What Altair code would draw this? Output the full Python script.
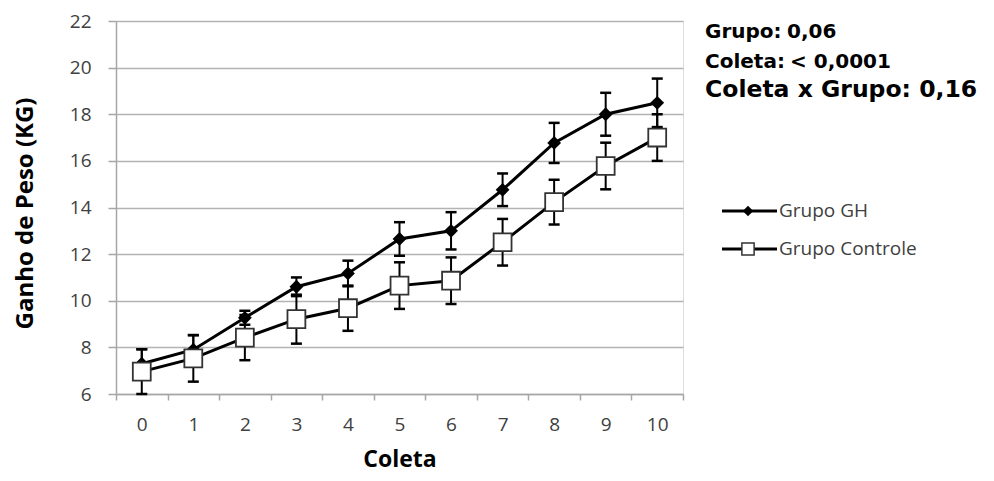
import altair as alt
import pandas as pd

# ---------------- data ----------------
coleta = list(range(11))
gh_mean = [7.3, 7.9, 9.27, 10.6, 11.17, 12.65, 13.0, 14.76, 16.77, 18.0, 18.49]
gh_se = [0.62, 0.62, 0.3, 0.4, 0.55, 0.72, 0.8, 0.7, 0.86, 0.92, 1.04]
ctrl_mean = [6.96, 7.53, 8.42, 9.21, 9.68, 10.65, 10.86, 12.51, 14.23, 15.78, 17.0]
ctrl_se = [0.96, 1.0, 0.97, 1.05, 0.97, 1.0, 1.0, 1.0, 0.96, 1.0, 1.0]
series_names = ["Grupo GH", "Grupo Controle"]
y_ticks = [6, 8, 10, 12, 14, 16, 18, 20, 22]
stat_labels = ["Grupo:", "0,06", "Coleta:", "< 0,0001", "Coleta x Grupo: 0,16"]

rows = []
for s, means, ses in [(series_names[0], gh_mean, gh_se), (series_names[1], ctrl_mean, ctrl_se)]:
    for c, m, e in zip(coleta, means, ses):
        rows.append({"serie": s, "coleta": c, "media": m, "lo": m - e, "hi": m + e})
df = pd.DataFrame(rows)

X = alt.X(
    "coleta:O",
    bandPosition=0.5,
    scale=alt.Scale(type="band", paddingInner=0, paddingOuter=0),
    axis=alt.Axis(
        title="Coleta", labelAngle=0, tickBand="extent", grid=False,
        labelFontSize=19, labelFont="Open Sans", labelColor="#404040",
        tickSize=6, labelPadding=15, tickColor="#a6a6a6", domainColor="#a6a6a6",
        tickWidth=1.5, domainWidth=1.5,
        titleFont="Open Sans", titleFontSize=23, titleFontWeight="bold",
        titleBaseline="alphabetic", titleY=72, titleColor="#000000",
    ),
)
Y = alt.Y(
    "media:Q",
    scale=alt.Scale(domain=[6, 22], nice=False, zero=False),
    axis=alt.Axis(
        title="Ganho de Peso (KG)", values=y_ticks, grid=True, gridColor="#b3b3b3",
        gridWidth=1.5, tickSize=8, tickColor="#a6a6a6", tickWidth=1.5,
        domainColor="#a6a6a6", domainWidth=1.5,
        labelFontSize=19, labelFont="Open Sans", labelColor="#404040", labelPadding=17,
        titleFont="Open Sans", titleFontSize=24, titleFontWeight="bold", titleColor="#000000",
        titleX=-79, titleY=192,
    ),
)

base = alt.Chart(df)
gh = base.transform_filter(alt.datum.serie == series_names[0])
ct = base.transform_filter(alt.datum.serie == series_names[1])

def lines(b):
    return b.mark_line(color="black", strokeWidth=3).encode(x=X, y=Y)

def errbars(b):
    rule = b.mark_rule(color="black", strokeWidth=2).encode(
        x=alt.X("coleta:O", bandPosition=0.5), y="lo:Q", y2="hi:Q")
    cap_lo = b.mark_point(shape="M-1,0H1", size=121, color="black", strokeWidth=2.5,
                          filled=False, opacity=1).encode(
        x=alt.X("coleta:O", bandPosition=0.5), y="lo:Q")
    cap_hi = b.mark_point(shape="M-1,0H1", size=121, color="black", strokeWidth=2.5,
                          filled=False, opacity=1).encode(
        x=alt.X("coleta:O", bandPosition=0.5), y="hi:Q")
    return [rule, cap_lo, cap_hi]

gh_pts = gh.mark_point(shape="diamond", size=190, filled=True, color="black", opacity=1).encode(
    x=alt.X("coleta:O", bandPosition=0.5), y="media:Q")
ct_pts = ct.mark_point(shape="square", size=320, filled=True, fill="white", stroke="#333333",
                       strokeWidth=1.8, opacity=1).encode(
    x=alt.X("coleta:O", bandPosition=0.5), y="media:Q")

def text_layer(txt, x, y, size, font, weight="bold", color="black"):
    return alt.Chart(pd.DataFrame({"t": [txt]})).mark_text(
        align="left", baseline="alphabetic", fontSize=size, font=font,
        fontWeight=weight, color=color).encode(
        x=alt.value(x), y=alt.value(y), text="t:N")

annot = [
    text_layer(stat_labels[0], 589, 17, 20, "DejaVu Sans"),
    text_layer(stat_labels[1], 671, 17, 20, "DejaVu Sans"),
    text_layer(stat_labels[2], 589, 47, 20, "DejaVu Sans"),
    text_layer(stat_labels[3], 674, 47, 20, "DejaVu Sans"),
    text_layer(stat_labels[4], 589, 76, 23.5, "DejaVu Sans"),
]

def legend_item(name, y, gh_style):
    d = pd.DataFrame({"t": [name]})
    ln = alt.Chart(d).mark_rule(color="black", strokeWidth=3).encode(
        x=alt.value(606), x2=alt.value(661), y=alt.value(y))
    if gh_style:
        sym = alt.Chart(d).mark_point(shape="diamond", size=110, filled=True, color="black",
                                      opacity=1).encode(x=alt.value(632), y=alt.value(y))
    else:
        sym = alt.Chart(d).mark_point(shape="square", size=150, filled=True, fill="white",
                                      stroke="#333333", strokeWidth=1.5, opacity=1).encode(
            x=alt.value(632), y=alt.value(y))
    tx = alt.Chart(d).mark_text(align="left", baseline="middle", fontSize=19, font="Open Sans",
                                color="#404040").encode(
        x=alt.value(663), y=alt.value(y), text="t:N")
    return [ln, sym, tx]

legend = legend_item(series_names[0], 190, True) + legend_item(series_names[1], 228, False)

chart = alt.layer(
    lines(gh), lines(ct),
    *errbars(gh), *errbars(ct),
    gh_pts, ct_pts,
    *annot, *legend,
).properties(
    width=567, height=373,
    padding={"left": 108, "top": 13, "right": 303, "bottom": 79},
    autosize="none",
).configure_view(stroke=None).configure(background="white")

chart.save("out.html", embed_options={"renderer": "svg", "actions": False})
